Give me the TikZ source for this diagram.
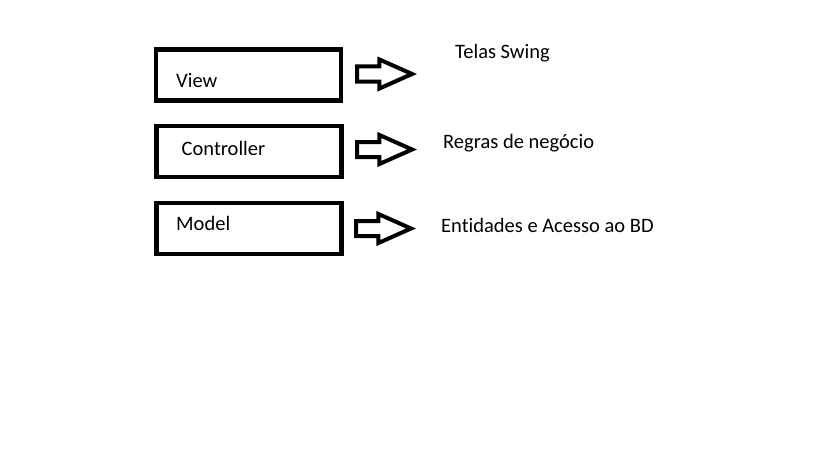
\documentclass[tikz,border=0pt]{standalone}
\usepackage{fontspec}
\setmainfont[Ligatures=NoCommon]{Carlito}
\usepackage{tikz}
\usetikzlibrary{positioning,shapes,arrows}

\begin{document}
\begin{tikzpicture}[x=1pt, y=-1pt,
        layer/.style={draw, line width=4.5pt, minimum width=185pt,
            minimum height=51pt, inner sep=0pt},
        fatarrow/.style={draw, line width=4pt, single arrow, anchor=west,
            outer sep=0pt, inner xsep=0pt, inner ysep=5.5pt,
            minimum height=55pt, single arrow head extend=7pt,
            single arrow tip angle=48},
        txt/.style={anchor=base west, inner sep=0pt,
            font=\fontsize{20.5}{24}\selectfont}]
        \useasboundingbox (0,0) rectangle (819,460);

        \node[layer] (view) at (248.5,75) {};
        \node[layer] (controller) at (249,151.3) {};
        \node[layer] (model) at (249,228.5) {};

        \node[txt] (viewName) at (176,87) {View};
        \node[txt] (controllerName) at (181.5,155) {Controller};
        \node[txt] (modelName) at (176,230.7) {Model};

        \node[fatarrow] (viewArrow) at (357,74) {};
        \node[fatarrow] (controllerArrow) at (357,149.5) {};
        \node[fatarrow] (modelArrow) at (356,228.5) {};

        \node[txt] (viewRole) at (455,59) {Telas Swing};
        \node[txt] (controllerRole) at (443,148) {Regras de negócio};
        \node[txt] (modelRole) at (441,232) {Entidades e Acesso ao BD};
    \end{tikzpicture}
\end{document}
